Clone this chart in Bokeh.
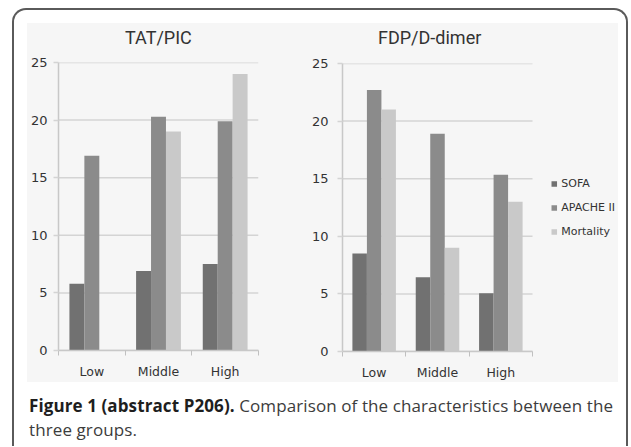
from bokeh.plotting import figure
from bokeh.models import Range1d, FixedTicker, Legend, LegendItem, Div, Spacer
from bokeh.layouts import row, column
from bokeh.embed import file_html
from bokeh.resources import INLINE

groups = ["Low", "Middle", "High"]
series = ["SOFA", "APACHE II", "Mortality"]
colors = ["#717171", "#8b8b8b", "#c9c9c9"]
titles = ["TAT/PIC", "FDP/D-dimer"]

tat_sofa = [5.8, 6.9, 7.5]
tat_apache = [16.9, 20.3, 19.9]
tat_mort = [0.0, 19.0, 24.0]

fdp_sofa = [8.5, 6.45, 5.05]
fdp_apache = [22.7, 18.9, 15.35]
fdp_mort = [21.0, 9.0, 13.0]

y_ticks = [0, 5, 10, 15, 20, 25]
BG = "#f6f6f6"
GRID = "#d4d4d4"


def make_chart(values, width, mb_left, mb_right, mb_top, mb_bottom, bw, ystand, x_end):
    n = len(groups)
    p = figure(width=width, height=329, x_range=Range1d(0, x_end), y_range=Range1d(0, 25),
               output_backend="svg", toolbar_location=None,
               min_border_left=mb_left, min_border_right=mb_right,
               min_border_top=mb_top, min_border_bottom=mb_bottom)
    p.background_fill_color = BG
    p.border_fill_color = BG
    p.outline_line_color = None

    # horizontal gridlines over the category span only
    p.segment(x0=[0] * len(y_ticks), x1=[n] * len(y_ticks), y0=y_ticks, y1=y_ticks,
              line_color=GRID, line_width=1.5)

    renderers = []
    offsets = [-bw, 0.0, bw]
    for vals, col, off in zip(values, colors, offsets):
        xs = [i + 0.5 + off for i in range(n)]
        r = p.vbar(x=xs, top=vals, width=bw, fill_color=col, line_color=None)
        renderers.append(r)

    p.xgrid.grid_line_color = None
    p.ygrid.grid_line_color = None

    ya = p.yaxis[0]
    ya.ticker = FixedTicker(ticks=y_ticks)
    ya.axis_line_color = "#c8c8c8"
    ya.axis_line_width = 1.5
    ya.major_tick_line_color = GRID
    ya.major_tick_line_width = 1.5
    ya.major_tick_out = 5
    ya.major_tick_in = 0
    ya.minor_tick_line_color = None
    ya.major_label_standoff = ystand
    ya.major_label_text_font = "DejaVu Sans"
    ya.major_label_text_font_size = "13px"
    ya.major_label_text_color = "#333333"

    xa = p.xaxis[0]
    xa.bounds = (0, n)
    xa.ticker = FixedTicker(ticks=[i + 0.5 for i in range(n)],
                            minor_ticks=list(range(n + 1)))
    xa.major_label_overrides = {i + 0.5: g for i, g in enumerate(groups)}
    xa.axis_line_color = "#c8c8c8"
    xa.axis_line_width = 1.5
    xa.major_tick_line_color = None
    xa.minor_tick_line_color = "#c0c0c0"
    xa.minor_tick_out = 5
    xa.minor_tick_in = 0
    xa.major_label_standoff = 7
    xa.major_label_text_font = "DejaVu Sans"
    xa.major_label_text_font_size = "12.5px"
    xa.major_label_text_color = "#333333"
    return p, renderers


def title_div(text, width, pad):
    return Div(text=f"<div style='padding-left:{pad}px'>{text}</div>",
               width=width, height=30, margin=0,
               styles={"background": BG, "font-family": "Roboto", "font-size": "18px",
                       "line-height": "30px", "color": "#333333", "white-space": "nowrap"})


left, _ = make_chart([tat_sofa, tat_apache, tat_mort], 273, 30, 42, 9, 32, 0.224, 6, 3)

# right chart: frame runs on to the panel edge so the legend sits beside the bars
right, rr = make_chart([fdp_sofa, fdp_apache, fdp_mort], 318, 42, 0, 10, 29, 0.229, 9,
                       3 * 276 / 190)

legend = Legend(items=[LegendItem(label=s, renderers=[r]) for s, r in zip(series, rr)],
                location="center_right", glyph_width=7, glyph_height=7, label_standoff=4,
                label_height=14, spacing=10, padding=4, margin=3,
                border_line_color=None, background_fill_alpha=0,
                label_text_font="DejaVu Sans", label_text_font_size="11px",
                label_text_color="#333333")
right.add_layout(legend)

left_col = column(title_div(titles[0], 273, 98), left, styles={"background": BG})
right_col = column(title_div(titles[1], 318, 78), right, styles={"background": BG})

panel = row(left_col, right_col, styles={"background": BG})
charts = row(Spacer(width=13, height=359), panel, Spacer(width=8, height=359))

caption = Div(
    text=("<span style='font-weight:bold;color:#1e1e1e'>Figure 1 (abstract P206).</span> "
          "Comparison of the characteristics between the<br>three groups."),
    width=592, height=52, margin=0,
    styles={"font-family": "'Open Sans'", "font-size": "17px", "line-height": "24px",
            "letter-spacing": "0.1px", "color": "#3c3c3c", "white-space": "nowrap"})

outer = column(Spacer(width=612, height=13), charts, Spacer(width=612, height=12),
               row(Spacer(width=15, height=52), caption),
               styles={"border": "2px solid #5a5a5a", "border-bottom": "none",
                       "border-radius": "14px 14px 0 0", "background": "white"})

page = column(Spacer(width=12, height=8), row(Spacer(width=12, height=10), outer))

open("out.html", "w").write(file_html(page, INLINE))
